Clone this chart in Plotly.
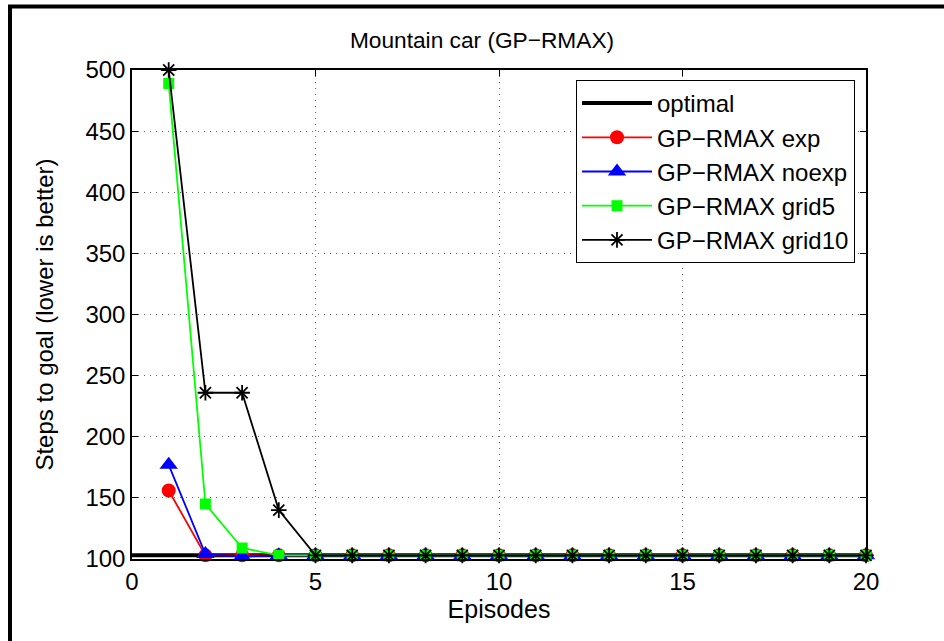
import plotly.graph_objects as go

# Episode numbers and steps-to-goal per method
episodes = list(range(1, 21))
optimal_x = [0, 20]
optimal_y = [103, 103]
gp_exp = [156, 103] + [103] * 18
gp_noexp = [177, 104, 102] + [103] * 17
gp_grid5 = [489, 145, 109] + [103] * 17
gp_grid10 = [500, 236, 236, 140] + [103] * 16

x_ticks = [0, 5, 10, 15, 20]
y_ticks = [100, 150, 200, 250, 300, 350, 400, 450, 500]

FONT = "Liberation Sans, Arial, Helvetica, sans-serif"

fig = go.Figure()

fig.add_trace(go.Scatter(
    x=optimal_x, y=optimal_y, mode="lines", name="optimal",
    line=dict(color="black", width=4), cliponaxis=False))

fig.add_trace(go.Scatter(
    x=episodes, y=gp_exp, mode="lines+markers", name="GP\u2212RMAX exp",
    line=dict(color="#ff0000", width=1.8),
    marker=dict(symbol="circle", size=14, color="#ff0000"),
    cliponaxis=False))

fig.add_trace(go.Scatter(
    x=episodes, y=gp_noexp, mode="lines+markers", name="GP\u2212RMAX noexp",
    line=dict(color="#0000ff", width=1.8),
    marker=dict(symbol="triangle-up", size=16, color="#0000ff"),
    cliponaxis=False))

fig.add_trace(go.Scatter(
    x=episodes, y=gp_grid5, mode="lines+markers", name="GP\u2212RMAX grid5",
    line=dict(color="#00ff00", width=1.8),
    marker=dict(symbol="square", size=11, color="#00ff00"),
    cliponaxis=False))

fig.add_trace(go.Scatter(
    x=episodes, y=gp_grid10, mode="lines+markers", name="GP\u2212RMAX grid10",
    line=dict(color="black", width=1.8),
    marker=dict(symbol="asterisk-open", size=13, color="black",
                line=dict(color="black", width=1.8)),
    cliponaxis=False))

axis_common = dict(
    showline=True, linecolor="black", linewidth=1.5, mirror="ticks",
    ticks="inside", ticklen=6, tickcolor="black", tickwidth=1,
    showgrid=True, gridcolor="#666666", griddash="1px,5px", gridwidth=1,
    zeroline=False,
    tickfont=dict(family=FONT, size=24, color="black"),
)

fig.update_xaxes(
    range=[0, 20], tickvals=x_ticks,
    title=dict(text="Episodes", font=dict(family=FONT, size=25, color="black"),
               standoff=1),
    **axis_common)
fig.update_yaxes(
    range=[100, 500], tickvals=y_ticks,
    title=dict(text="Steps to goal (lower is better)",
               font=dict(family=FONT, size=24, color="black"), standoff=25),
    **axis_common)

fig.update_layout(
    width=944, height=641,
    margin=dict(l=132, r=78, t=70, b=82, pad=0),
    paper_bgcolor="white", plot_bgcolor="white",
    font=dict(family=FONT, size=24, color="black"),
    title=dict(text="Mountain car (GP\u2212RMAX)", xref="container",
               x=482 / 944, xanchor="center",
               y=(641 - 40) / 641, yanchor="middle",
               font=dict(family=FONT, size=22.7, color="black")),
    legend=dict(
        x=(855 - 132) / 734, xanchor="right",
        y=(559 - 80) / 489, yanchor="top",
        bgcolor="white", bordercolor="black", borderwidth=1,
        font=dict(family=FONT, size=24, color="black"),
        tracegroupgap=0, itemwidth=70,
    ),
    showlegend=True,
    shapes=[
        # frame around the figure
        dict(type="rect", xref="paper", yref="paper",
             x0=(10 - 132) / 734, x1=(1100 - 132) / 734,
             y0=(559 - 800) / 489, y1=(559 - 6.5) / 489,
             line=dict(color="black", width=4), layer="above"),
    ],
)

fig.write_html("out.html")
